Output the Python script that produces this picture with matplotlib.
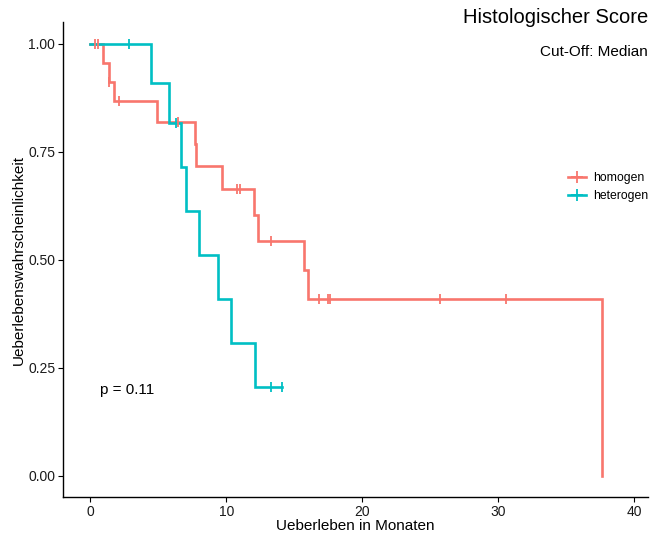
"""Kaplan-Meier Kurven: Histologischer Score (Cut-Off: Median)."""

import matplotlib

matplotlib.use("Agg", force=True)
import matplotlib.pyplot as plt
from matplotlib.lines import Line2D

plt.rcParams["font.family"] = ["Liberation Sans", "DejaVu Sans"]

# Stufen der Ueberlebenskurven (Zeit in Monaten, Ueberlebenswahrscheinlichkeit)
homogen_t = [0, 0.94, 1.36, 1.75, 4.87, 7.69, 7.77, 9.65, 12.05, 12.3, 15.69, 16.0, 37.66]
homogen_s = [1.0, 0.957, 0.913, 0.869, 0.819, 0.768, 0.717, 0.665, 0.604, 0.545, 0.477, 0.409, 0.0]
heterogen_t = [0, 4.48, 5.78, 6.66, 7.0, 7.98, 9.38, 10.31, 12.08, 14.09]
heterogen_s = [1.0, 0.909, 0.818, 0.716, 0.614, 0.511, 0.409, 0.307, 0.205, 0.205]

# zensierte Beobachtungen
homogen_cens_t = [0.35, 0.53, 1.4, 2.07, 6.46, 10.78, 11.02, 13.26, 16.81, 17.45, 17.65, 25.74, 30.6]
homogen_cens_s = [1.0, 1.0, 0.913, 0.869, 0.819, 0.665, 0.665, 0.545, 0.409, 0.409, 0.409, 0.409, 0.409]
heterogen_cens_t = [2.81, 6.27, 13.26, 14.09]
heterogen_cens_s = [1.0, 0.818, 0.205, 0.205]

groups = ["homogen", "heterogen"]
colors = {"homogen": "#F8766D", "heterogen": "#00BFC4"}
p_value = 0.11

x_ticks = [0, 10, 20, 30, 40]
y_ticks = [0.0, 0.25, 0.5, 0.75, 1.0]

fig = plt.figure(figsize=(6.5, 5.36), dpi=100)
ax = fig.add_axes([0.0969, 0.0728, 0.9001, 0.8855])

curves = {
    "homogen": (homogen_t, homogen_s, homogen_cens_t, homogen_cens_s),
    "heterogen": (heterogen_t, heterogen_s, heterogen_cens_t, heterogen_cens_s),
}
for name in groups:
    t, s, ct, cs = curves[name]
    ax.step(t, s, where="post", color=colors[name], linewidth=1.9,
            solid_joinstyle="miter", zorder=3)
    ax.plot(ct, cs, linestyle="none", marker="|", markersize=7,
            markeredgewidth=1.3, color=colors[name], zorder=4)

ax.set_xlim(-2.02, 41.02)
ax.set_ylim(-0.0486, 1.05)
ax.set_xticks(x_ticks)
ax.set_yticks(y_ticks)
ax.set_yticklabels([f"{v:.2f}" for v in y_ticks])
ax.tick_params(labelsize=10, length=3.5, width=0.8, pad=2, colors="black",
               labelcolor="#1a1a1a")
for side in ("top", "right"):
    ax.spines[side].set_visible(False)
for side in ("left", "bottom"):
    ax.spines[side].set_linewidth(1.0)

ax.set_xlabel("Ueberleben in Monaten", fontsize=11, labelpad=0)
ax.set_ylabel("Ueberlebenswahrscheinlichkeit", fontsize=11, labelpad=2)

ax.text(0.7, 0.2, f"p = {p_value}", fontsize=11, ha="left", va="center")

handles = [
    Line2D([], [], color=colors[g], linewidth=1.9, marker="+",
           markersize=8, markeredgewidth=1.3)
    for g in groups
]
ax.legend(handles, groups, loc="center left", bbox_to_anchor=(0.848, 0.653),
          frameon=False, fontsize=8.8, handlelength=1.5, handletextpad=0.6,
          labelspacing=0.5, borderpad=0.2)

fig.text(0.997, 0.968, "Histologischer Score", fontsize=14.5, ha="right",
         va="center")
fig.text(0.997, 0.903, "Cut-Off: Median", fontsize=11, ha="right",
         va="center")

fig.savefig("out.png", dpi=100)
plt.close(fig)
